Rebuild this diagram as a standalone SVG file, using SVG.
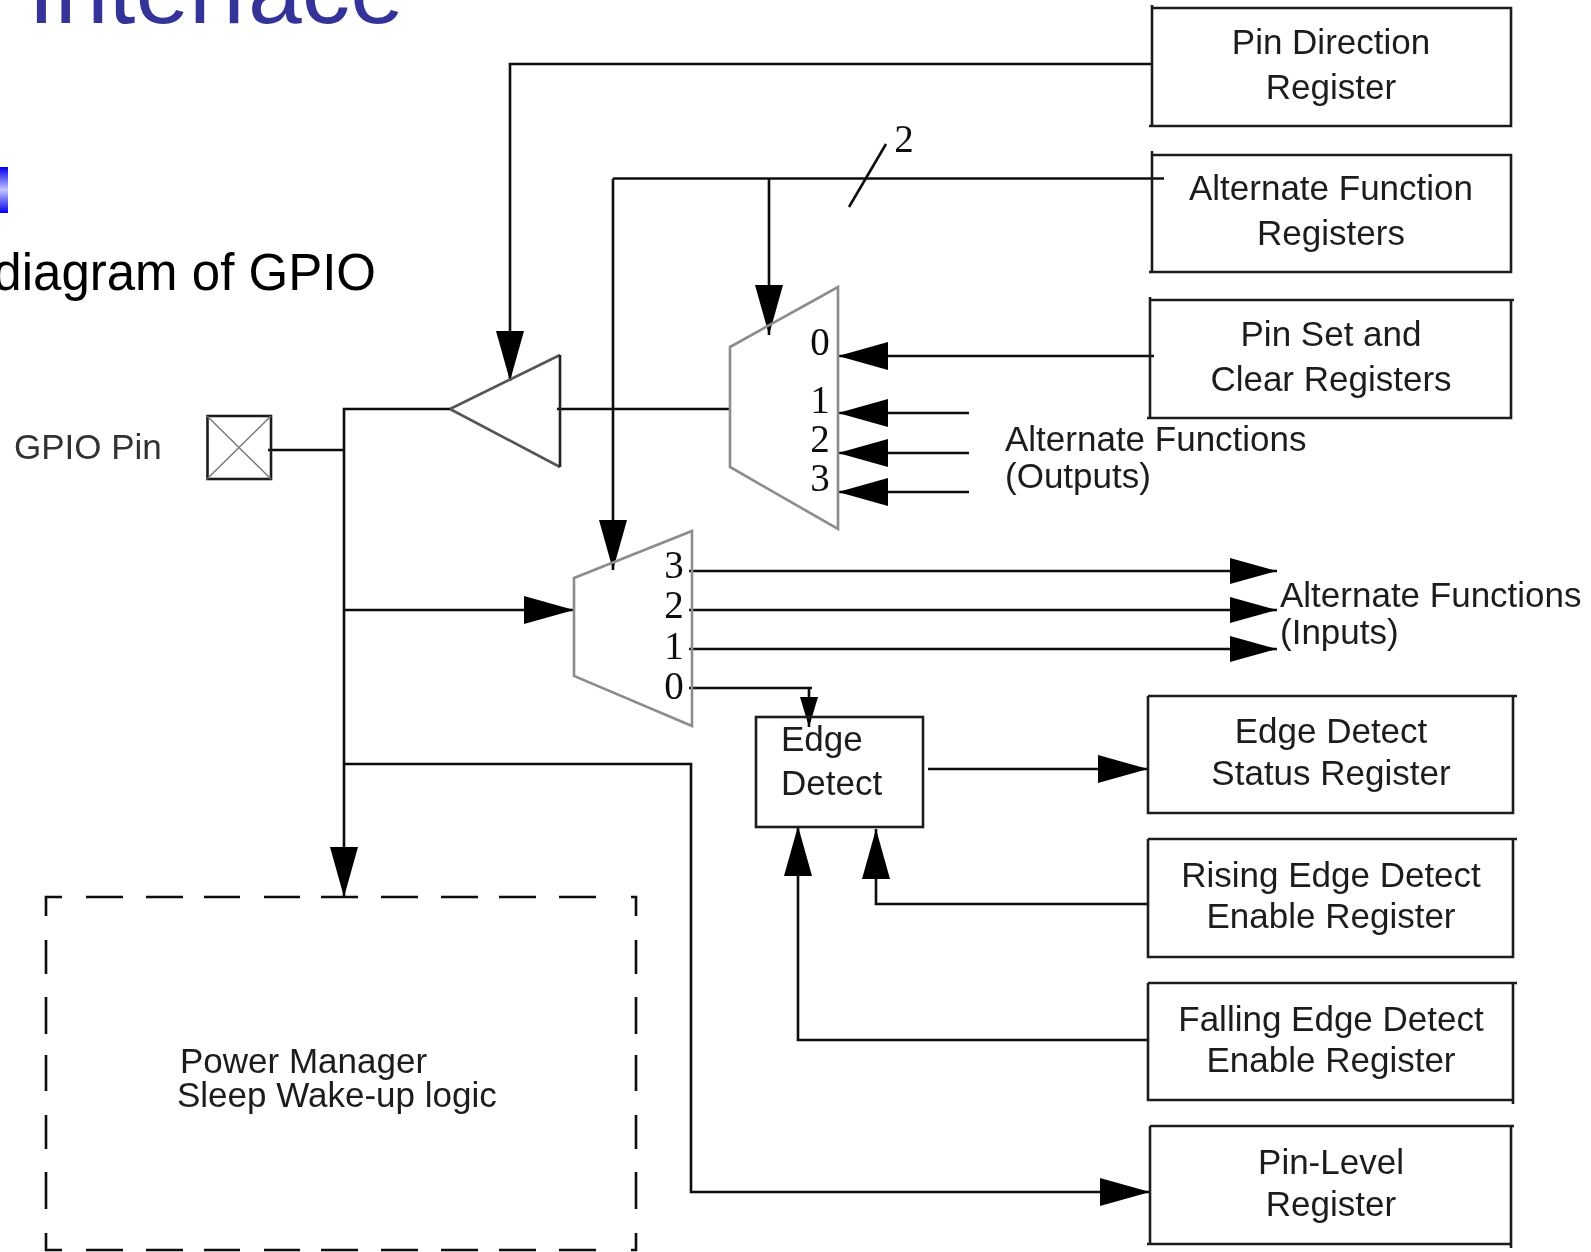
<svg xmlns="http://www.w3.org/2000/svg" width="1591" height="1252" viewBox="0 0 1591 1252">
<style>
.b{fill:none;stroke:#1a1a1a;stroke-width:2.6}
.t{font-family:"Liberation Sans",Arial,sans-serif;font-size:35px;fill:#1c1c1c}
.c{text-anchor:middle}
.d{font-family:"Liberation Serif","Times New Roman",serif;font-size:39px;fill:#111;text-anchor:middle}
.m{fill:none;stroke:#8c8c8c;stroke-width:2.6}
.l{fill:none;stroke:#111;stroke-width:2.6}
.a{marker-end:url(#big)}
.o{marker-end:url(#mid)}
.s{marker-end:url(#small)}
</style>
<defs>
<marker id="big" markerUnits="userSpaceOnUse" markerWidth="50" markerHeight="30" refX="50" refY="15" orient="auto"><path d="M0 1L50 15L0 29Z" fill="#000"/></marker>
<marker id="mid" markerUnits="userSpaceOnUse" markerWidth="47" markerHeight="30" refX="47" refY="15" orient="auto"><path d="M0 2L47 15L0 28Z" fill="#000"/></marker>
<marker id="small" markerUnits="userSpaceOnUse" markerWidth="30" markerHeight="20" refX="30" refY="10" orient="auto"><path d="M0 1L30 10L0 19Z" fill="#000"/></marker>
<linearGradient id="bar" x1="0" y1="0" x2="0" y2="1"><stop offset="0" stop-color="#0000f0"/><stop offset=".5" stop-color="#c4c4ff"/><stop offset="1" stop-color="#0000f0"/></linearGradient>
<filter id="soft" x="0" y="0" width="1591" height="1252" filterUnits="userSpaceOnUse"><feGaussianBlur stdDeviation="0.5"/></filter>
</defs>
<rect width="1591" height="1252" fill="#fff"/>
<text x="28" y="23" font-family="'Liberation Sans',Arial,sans-serif" font-size="96.6" fill="#333399">Interface</text>
<rect x="0" y="167" width="8" height="46" fill="url(#bar)"/>
<text x="376" y="290" text-anchor="end" font-family="'Liberation Sans',Arial,sans-serif" font-size="51" fill="#000">diagram of GPIO</text>

<g filter="url(#soft)">
<g id="connectors">
<path class="l a" d="M1152 64H510V381"/>
<path class="l" d="M1164 178.500H613"/>
<path class="l a" d="M613 178.500V570"/>
<path class="l a" d="M769 178.500V335"/>
<path class="l" d="M849 207L886 144"/>
<path class="l a" d="M1154 356H838"/>
<path class="l a" d="M969 413H838"/>
<path class="l a" d="M969 453H838"/>
<path class="l a" d="M969 492H838"/>
<path class="l" d="M557 409H730"/>
<path class="l a" d="M450 409H344V897"/>
<path class="l" d="M268 450H344"/>
<path class="l a" d="M344 610H574"/>
<path class="l a" d="M344 764H691V1192H1150"/>
<path class="l o" d="M689 571H1277"/>
<path class="l o" d="M689 610H1277"/>
<path class="l o" d="M689 649H1277"/>
<path class="l" d="M689 688H812"/>
<path class="l s" d="M809 688V727"/>
<path class="l a" d="M928 769H1148"/>
<path class="l a" d="M1148 904H876V829"/>
<path class="l a" d="M1148 1040H798V826"/>
</g>

<g id="pin-direction"><path class="b" d="M1152 8H1511V126H1149M1152 5V126"/><text class="t c" x="1331" y="54">Pin Direction</text><text class="t c" x="1331" y="99">Register</text></g>
<g id="alt-function"><path class="b" d="M1152 155H1511V272H1149M1152 151V272"/><text class="t c" x="1331" y="200">Alternate Function</text><text class="t c" x="1331" y="245">Registers</text></g>
<g id="pin-set"><path class="b" d="M1150 300H1514M1511 300V418H1147M1150 297V418"/><text class="t c" x="1331" y="346">Pin Set and</text><text class="t c" x="1331" y="391">Clear Registers</text></g>
<g id="edge-status"><path class="b" d="M1148 696H1517M1513 696V813H1148V696"/><text class="t c" x="1331" y="743">Edge Detect</text><text class="t c" x="1331" y="785">Status Register</text></g>
<g id="rising"><path class="b" d="M1148 839H1517M1513 839V957H1148V839"/><text class="t c" x="1331" y="887">Rising Edge Detect</text><text class="t c" x="1331" y="928">Enable Register</text></g>
<g id="falling"><path class="b" d="M1148 983H1517M1513 983V1104M1513 1100H1148V983"/><text class="t c" x="1331" y="1031">Falling Edge Detect</text><text class="t c" x="1331" y="1072">Enable Register</text></g>
<g id="pin-level"><path class="b" d="M1150 1126H1514M1511 1126V1248M1511 1244H1147M1150 1126V1244"/><text class="t c" x="1331" y="1174">Pin-Level</text><text class="t c" x="1331" y="1216">Register</text></g>

<g id="edge-detect"><rect class="b" x="756" y="717" width="167" height="110"/><text class="t" x="781" y="751">Edge</text><text class="t" x="781" y="795">Detect</text></g>

<g id="gpio-pin"><rect class="b" x="207.500" y="416" width="63.500" height="63"/><path d="M207 416L271 479M271 416L207 479" stroke="#777" stroke-width="1.4" fill="none"/><text class="t" x="14" y="459" style="fill:#333">GPIO Pin</text></g>
<g id="buffer"><path d="M450 409L560 355M450 409L560 467" fill="none" stroke="#555" stroke-width="2.6"/><path d="M560 355V467" fill="none" stroke="#222" stroke-width="2.6"/></g>
<g id="mux-out"><path class="m" d="M730 347L838 287V529L730 467Z"/><text class="d" x="820" y="355">0</text><text class="d" x="820" y="413">1</text><text class="d" x="820" y="452">2</text><text class="d" x="820" y="491">3</text></g>
<g id="mux-in"><path class="m" d="M574 578L692 531V726L574 676Z"/><text class="d" x="674" y="578">3</text><text class="d" x="674" y="618">2</text><text class="d" x="674" y="659">1</text><text class="d" x="674" y="699">0</text></g>
<g id="power"><path class="l" d="M46 916V897H62M86 897H123M146 897H183M204 897H240M264 897H300M321 897H358M381 897H418M441 897H478M499 897H536M559 897H596M631 897H636V916M636 940V974M636 997V1034M636 1055V1091M636 1115V1149M636 1172V1209M636 1233V1250H631M596 1250H559M536 1250H499M478 1250H441M418 1250H381M358 1250H321M300 1250H264M240 1250H204M183 1250H146M123 1250H86M62 1250H46V1233M46 1209V1172M46 1149V1115M46 1091V1055M46 1034V997M46 974V940"/><text class="t" x="180" y="1073">Power Manager</text><text class="t" x="177" y="1107">Sleep Wake-up logic</text></g>
<g id="labels"><text class="d" x="904" y="152">2</text><text class="t" x="1005" y="451">Alternate Functions</text><text class="t" x="1005" y="488">(Outputs)</text><text class="t" x="1280" y="607">Alternate Functions</text><text class="t" x="1280" y="644">(Inputs)</text></g>
</g>
</svg>
